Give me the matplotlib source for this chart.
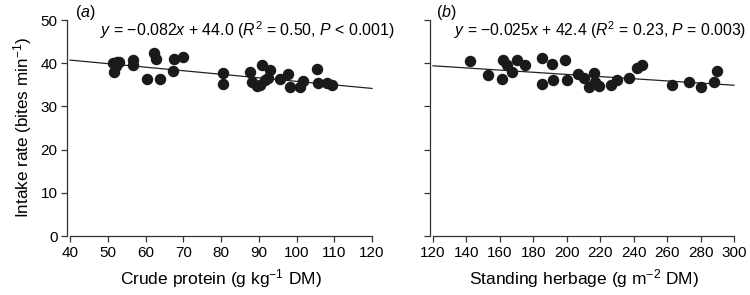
import matplotlib
matplotlib.use("Agg")
import matplotlib.pyplot as plt
import numpy as np

plt.rcParams['font.family'] = ['Liberation Sans', 'DejaVu Sans']
plt.rcParams['mathtext.fontset'] = 'custom'
plt.rcParams['mathtext.rm'] = 'Liberation Sans'
plt.rcParams['mathtext.it'] = 'Liberation Sans:italic'

# Panel (a): crude protein vs intake rate
cp_x = [51.5, 52.5, 52.3, 51.7, 53.0, 56.8, 56.8, 62.3, 62.8, 60.5, 63.8, 67.5, 70.0, 67.4,
        80.5, 80.6, 87.8, 88.1, 89.6, 90.8, 93.0, 91.7, 90.3, 92.5, 95.6, 97.8, 98.3,
        100.9, 101.8, 105.3, 105.8, 108.0, 109.3]
cp_y = [40.0, 40.3, 39.4, 38.0, 40.2, 40.7, 39.6, 42.4, 40.9, 36.3, 36.3, 40.9, 41.5, 38.3,
        37.8, 35.3, 38.0, 35.7, 34.7, 39.6, 38.4, 36.1, 34.9, 36.5, 36.3, 37.4, 34.4,
        34.4, 35.9, 38.6, 35.4, 35.4, 35.0]
fit_a = (-0.082, 44.0)

# Panel (b): standing herbage vs intake rate
sh_x = [142.4, 152.7, 162.1, 161.1, 167.1, 170.5, 175.1, 164.5, 185.0, 191.0, 199.0, 185.0,
        191.8, 200.0, 207.0, 210.0, 213.0, 216.0, 217.0, 219.0, 226.2, 230.2, 237.1,
        242.1, 245.1, 263.0, 273.0, 280.0, 288.0, 290.0]
sh_y = [40.5, 37.2, 40.7, 36.3, 38.0, 40.7, 39.6, 39.6, 41.3, 39.8, 40.7, 35.3,
        36.1, 36.1, 37.4, 36.6, 34.5, 37.7, 35.7, 34.7, 35.0, 36.1, 36.6,
        38.8, 39.6, 35.0, 35.7, 34.5, 35.7, 38.3]
fit_b = (-0.025, 42.4)

yticks = [0, 10, 20, 30, 40, 50]
xticks_a = [40, 50, 60, 70, 80, 90, 100, 110, 120]
xticks_b = [120, 140, 160, 180, 200, 220, 240, 260, 280, 300]

W, H = 750, 295
fig = plt.figure(figsize=(W / 100, H / 100), dpi=100)
ax1 = fig.add_axes([70 / W, (H - 236) / H, 302 / W, 216 / H])
ax2 = fig.add_axes([433 / W, (H - 236) / H, 301 / W, 216 / H])

ptcol = '#1a1a1a'
spcol = '#333333'

def style(ax, xlim, xticks, show_ylabels):
    ax.set_xlim(*xlim)
    ax.set_ylim(0, 50)
    ax.set_xticks(xticks)
    ax.set_yticks(yticks)
    for s in ['top', 'right']:
        ax.spines[s].set_visible(False)
    for s in ['left', 'bottom']:
        ax.spines[s].set_color(spcol)
        ax.spines[s].set_linewidth(0.9)
    ax.spines['left'].set_position(('outward', 2))
    ax.tick_params(direction='out', length=4, width=0.9, color=spcol,
                   labelsize=11, pad=3)
    if not show_ylabels:
        ax.set_yticklabels([])

def panel(ax, x, y, fit, xlim):
    xs = np.array(xlim, dtype=float)
    ax.plot(xs, fit[0] * xs + fit[1], color='#222222', lw=0.9, zorder=2, clip_on=False)
    ax.scatter(x, y, s=68, color=ptcol, zorder=3, linewidths=0)

panel(ax1, cp_x, cp_y, fit_a, (40, 120))
panel(ax2, sh_x, sh_y, fit_b, (120, 300))
style(ax1, (40, 120), xticks_a, True)
style(ax2, (120, 300), xticks_b, False)

ax1.set_xlabel('Crude protein (g kg$^{-1}$ DM)', fontsize=12.5, labelpad=5)
ax2.set_xlabel('Standing herbage (g m$^{-2}$ DM)', fontsize=12.5, labelpad=5)
ax1.set_ylabel('Intake rate (bites min$^{-1}$)', fontsize=12.3, labelpad=5)

ax1.text(0.586, 0.955, '$y$ = −0.082$x$ + 44.0 ($R^2$ = 0.50, $P$ < 0.001)',
         transform=ax1.transAxes, ha='center', va='center', fontsize=11.4)
ax2.text(0.555, 0.955, '$y$ = −0.025$x$ + 42.4 ($R^2$ = 0.23, $P$ = 0.003)',
         transform=ax2.transAxes, ha='center', va='center', fontsize=11.3)

fig.text(75 / W, 1 - 12 / H, '($a$)', fontsize=11.5, ha='left', va='center')
fig.text(436 / W, 1 - 12 / H, '($b$)', fontsize=11.5, ha='left', va='center')

fig.savefig('out.png', dpi=100)
